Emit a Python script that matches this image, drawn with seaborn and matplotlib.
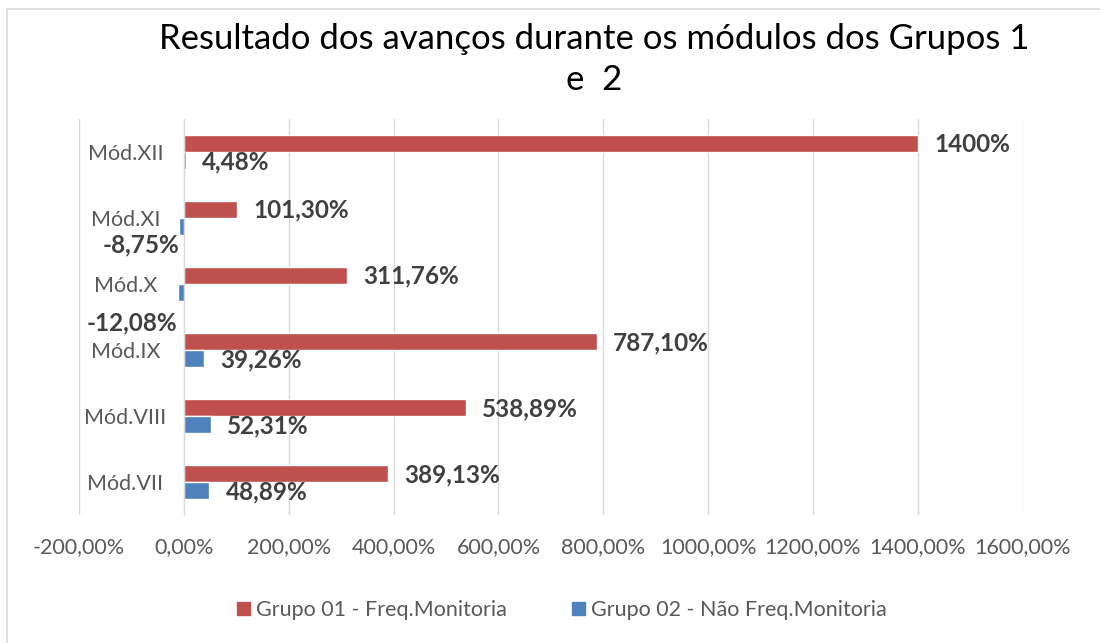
import matplotlib
matplotlib.use("Agg")
import matplotlib.pyplot as plt
import matplotlib.patches as mpatches
import seaborn as sns
import pandas as pd

MODULES = ["Mód.XII", "Mód.XI", "Mód.X", "Mód.IX", "Mód.VIII", "Mód.VII"]
GRUPO_01 = [1400.0, 101.30, 311.76, 787.10, 538.89, 389.13]
GRUPO_02 = [4.48, -8.75, -12.08, 39.26, 52.31, 48.89]
LABELS_01 = ["1400%", "101,30%", "311,76%", "787,10%", "538,89%", "389,13%"]
LABELS_02 = ["4,48%", "-8,75%", "-12,08%", "39,26%", "52,31%", "48,89%"]
SERIES = ["Grupo 01 - Freq.Monitoria", "Grupo 02 - Não Freq.Monitoria"]
X_TICKS = list(range(-200, 1601, 200))

RED = "#C0504D"
BLUE = "#4F81BD"
GRID = "#D9D9D9"
TEXT = "#595959"
LABEL = "#404040"

sns.set_style("white")
plt.rcParams["font.family"] = ["Lato", "DejaVu Sans"]

df = pd.DataFrame({
    "Módulo": MODULES * 2,
    "Valor": GRUPO_01 + GRUPO_02,
    "Grupo": [SERIES[0]] * len(MODULES) + [SERIES[1]] * len(MODULES),
})

fig = plt.figure(figsize=(11, 6.43), dpi=100)
ax = fig.add_axes([0.0718, 0.199, 0.858, 0.616])

sns.barplot(data=df, y="Módulo", x="Valor", hue="Grupo", order=MODULES,
            hue_order=SERIES, palette=[RED, BLUE], saturation=1, orient="h",
            width=0.52, gap=0, errorbar=None, legend=False, ax=ax)

ax.set_xlim(-200, 1600)
ax.set_xticks(X_TICKS)
ax.set_xticklabels([f"{v:.2f}".replace(".", ",") + "%" for v in X_TICKS])
ax.set_xlabel("")
ax.set_ylabel("")
ax.grid(axis="x", color=GRID, linewidth=1)
ax.set_axisbelow(True)
for side in ["top", "right", "bottom"]:
    ax.spines[side].set_visible(False)
ax.spines["left"].set_position(("data", 0))
ax.spines["left"].set_color(GRID)

ax.tick_params(axis="x", length=0, pad=16, labelsize=15.5, labelcolor=TEXT)
ax.tick_params(axis="y", length=0, pad=42, labelsize=15.5, labelcolor=TEXT)
for t in ax.get_yticklabels():
    t.set_ha("center")

# data labels
neg_dy = {"Mód.XI": -18, "Mód.X": -30}
for container, labels in zip(ax.containers, [LABELS_01, LABELS_02]):
    for bar, text, mod in zip(container, labels, MODULES):
        w = bar.get_width()
        yc = bar.get_y() + bar.get_height() / 2
        if w >= 0:
            ax.annotate(text, (w, yc), xytext=(16, -1), textcoords="offset pixels",
                        ha="left", va="center", fontsize=17.5, fontweight="bold",
                        color=LABEL)
        else:
            ax.annotate(text, (w, yc), xytext=(0, neg_dy[mod]),
                        textcoords="offset pixels", ha="right", va="center",
                        fontsize=17.5, fontweight="bold", color=LABEL)

fig.suptitle("Resultado dos avanços durante os módulos dos Grupos 1\ne  2",
             x=0.54, y=0.965, fontsize=25, color="#000000", linespacing=1.35)

handles = [mpatches.Patch(color=RED), mpatches.Patch(color=BLUE)]
fig.legend(handles, SERIES, loc="center", bbox_to_anchor=(0.511, 0.051), ncol=2,
           frameon=False, fontsize=15.5, labelcolor=TEXT, handlelength=0.6,
           handleheight=0.6, handletextpad=0.3, columnspacing=3.0)

fig.add_artist(mpatches.Rectangle((7 / 1100, -0.1), 2, 1.086, transform=fig.transFigure,
                                  fill=False, edgecolor=GRID, linewidth=1.2))

fig.savefig("out.png", dpi=100)
